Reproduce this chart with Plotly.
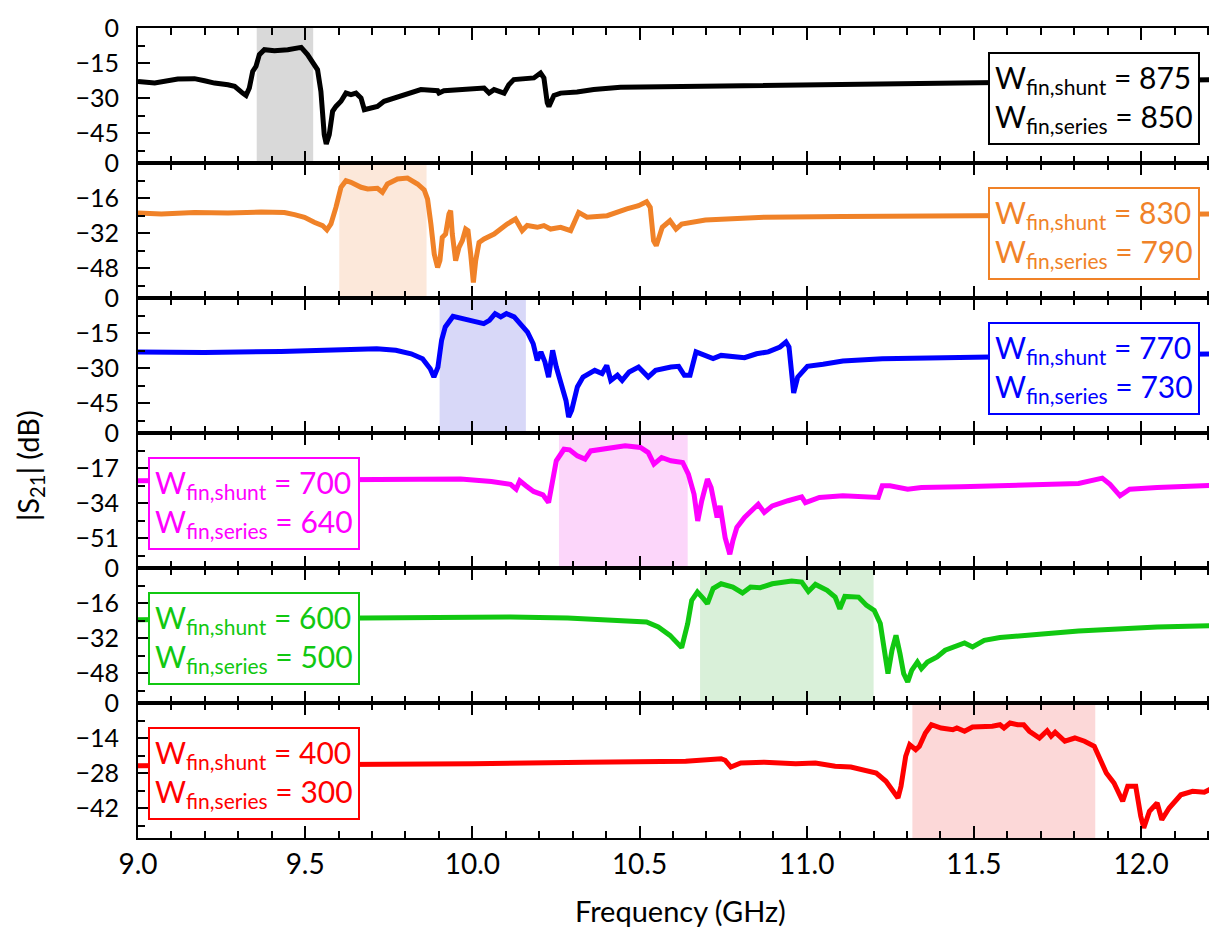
import plotly.graph_objects as go
from plotly.subplots import make_subplots

# ---------------- data ----------------
freq_875 = [9.000, 9.050, 9.119, 9.169, 9.199, 9.229, 9.269, 9.289, 9.313, 9.323, 9.333, 9.343, 9.353, 9.363,
            9.378, 9.408, 9.448, 9.478, 9.488, 9.507, 9.522, 9.537, 9.547, 9.557, 9.563, 9.572, 9.582, 9.592,
            9.607, 9.622, 9.637, 9.652, 9.667, 9.677, 9.697, 9.716, 9.736, 9.766, 9.816, 9.846, 9.896, 9.900,
            9.915, 9.965, 10.035, 10.050, 10.065, 10.095, 10.109, 10.124, 10.184, 10.204, 10.214, 10.224,
            10.229, 10.244, 10.264, 10.313, 10.363, 10.443, 10.638, 10.991, 11.461, 11.813, 12.225, 12.245]
s21_875 = [-22.9, -23.6, -21.9, -21.7, -22.6, -23.6, -24.3, -25.0, -27.9, -28.9, -25.7, -18.6, -16.4, -11.4,
           -9.3, -9.7, -9.3, -8.6, -8.3, -11.4, -14.3, -17.9, -27.1, -45.7, -49.7, -45.7, -35.7, -33.6,
           -31.4, -27.9, -28.6, -27.9, -30.0, -35.0, -34.3, -33.6, -31.4, -30.0, -27.9, -26.4, -26.9, -27.9,
           -26.9, -26.4, -25.7, -27.9, -26.4, -27.9, -24.3, -22.1, -21.4, -19.3, -21.4, -32.1,
           -33.6, -28.9, -27.9, -27.4, -26.4, -25.4, -25.0, -24.3, -23.6, -22.9, -22.1, -22.1]

freq_830 = [9.000, 9.070, 9.169, 9.269, 9.368, 9.438, 9.468, 9.498, 9.527, 9.552, 9.565, 9.577, 9.592, 9.607,
            9.622, 9.637, 9.667, 9.687, 9.716, 9.731, 9.746, 9.776, 9.806, 9.836, 9.856, 9.866, 9.876, 9.886,
            9.896, 9.903, 9.910, 9.920, 9.930, 9.935, 9.940, 9.950, 9.960, 9.970, 9.980, 9.987, 9.995, 10.003,
            10.010, 10.020, 10.035, 10.065, 10.104, 10.129, 10.149, 10.164, 10.194, 10.214, 10.234, 10.264,
            10.294, 10.308, 10.318, 10.343, 10.383, 10.403, 10.462, 10.497, 10.521, 10.532, 10.542, 10.550,
            10.568, 10.591, 10.609, 10.626, 10.697, 10.873, 11.108, 11.461, 12.225, 12.245]
s21_830 = [-22.9, -23.3, -22.6, -22.9, -22.4, -22.6, -23.6, -24.8, -27.1, -28.6, -30.6, -27.9, -20.3, -11.1,
           -8.1, -8.8, -11.1, -11.9, -11.6, -13.4, -9.6, -7.3, -6.9, -9.6, -12.3, -16.5, -27.9, -41.6,
           -47.7, -44.6, -34.0, -32.5, -23.3, -21.8, -32.5, -44.6, -38.6, -35.5, -30.2, -30.9, -41.6, -54.6,
           -44.6, -36.3, -34.7, -32.5, -27.9, -25.6, -30.9, -28.6, -29.4, -28.6, -30.2, -29.4,
           -30.9, -26.4, -22.6, -24.8, -24.5, -24.1, -21.0, -19.5, -17.7, -20.3, -35.5, -37.8,
           -29.4, -26.4, -30.2, -27.9, -26.1, -24.8, -24.5, -24.1, -23.3, -23.3]

freq_770 = [9.000, 9.199, 9.428, 9.542, 9.611, 9.714, 9.771, 9.817, 9.851, 9.874, 9.885, 9.897, 9.908, 9.919,
            9.942, 9.977, 10.011, 10.034, 10.051, 10.068, 10.085, 10.102, 10.125, 10.148, 10.165, 10.182,
            10.194, 10.205, 10.217, 10.228, 10.240, 10.251, 10.268, 10.280, 10.288, 10.297, 10.314, 10.331,
            10.366, 10.388, 10.402, 10.414, 10.434, 10.448, 10.469, 10.497, 10.526, 10.548, 10.594, 10.617,
            10.634, 10.651, 10.669, 10.720, 10.744, 10.779, 10.814, 10.850, 10.885, 10.920, 10.938, 10.947,
            10.955, 10.961, 10.973, 11.002, 11.049, 11.108, 11.226, 11.343, 11.549, 11.813, 12.225, 12.245]
s21_770 = [-23.1, -23.4, -22.9, -22.4, -22.4, -21.7, -22.4, -23.9, -26.0, -30.3, -33.9, -29.6, -18.1, -12.4,
           -7.9, -8.9, -10.3, -11.0, -9.6, -6.7, -8.1, -6.7, -8.1, -11.7, -14.6, -19.6,
           -26.7, -23.1, -27.4, -33.9, -22.4, -29.6, -38.1, -43.9, -51.0, -48.1, -38.1, -33.9,
           -31.0, -32.4, -28.9, -35.3, -33.1, -35.3, -31.7, -29.6, -33.9, -31.0, -29.6, -29.3,
           -33.1, -33.1, -23.1, -26.0, -24.6, -25.3, -25.6, -23.9, -23.1, -21.0, -18.9, -21.0,
           -32.4, -40.7, -33.9, -29.3, -28.4, -27.0, -26.0, -25.6, -25.3, -24.6, -23.9, -23.9]

freq_700 = [9.000, 9.691, 9.771, 9.885, 9.965, 10.057, 10.114, 10.131, 10.142, 10.160, 10.183, 10.211, 10.222,
            10.228, 10.240, 10.251, 10.274, 10.291, 10.314, 10.337, 10.354, 10.388, 10.434, 10.457, 10.503,
            10.526, 10.543, 10.566, 10.594, 10.629, 10.646, 10.663, 10.674, 10.686, 10.703, 10.714, 10.732,
            10.741, 10.756, 10.770, 10.779, 10.791, 10.814, 10.838, 10.855, 10.873, 10.897, 10.944, 10.985,
            10.996, 11.038, 11.108, 11.179, 11.214, 11.226, 11.249, 11.302, 11.343, 11.461, 11.578, 11.813,
            11.884, 11.907, 11.937, 11.966, 12.048, 12.166, 12.245]
s21_700 = [-23.2, -22.9, -22.4, -22.7, -22.4, -23.6, -24.9, -27.3, -23.2, -25.6, -28.4, -30.0, -32.9,
           -33.8, -23.2, -13.5, -7.9, -8.2, -11.1, -12.7, -8.7, -7.9, -6.7, -6.2, -7.0,
           -9.5, -15.1, -11.9, -13.5, -14.3, -20.0, -29.7, -42.7, -32.9, -22.4, -26.5, -41.0,
           -35.4, -50.8, -58.9, -52.4, -45.9, -41.0, -37.0, -34.6, -38.6, -35.4, -32.9, -31.0,
           -33.8, -31.3, -30.5, -31.0, -31.3, -25.6, -25.6, -27.3, -26.5, -26.1, -25.6, -24.5,
           -21.9, -24.9, -30.5, -27.3, -26.5, -25.6, -25.3]

freq_600 = [9.000, 9.691, 9.885, 10.114, 10.285, 10.400, 10.474, 10.521, 10.556, 10.591, 10.626, 10.644, 10.656,
            10.673, 10.691, 10.703, 10.720, 10.744, 10.779, 10.808, 10.832, 10.861, 10.897, 10.955, 10.985,
            11.005, 11.026, 11.061, 11.085, 11.099, 11.114, 11.155, 11.179, 11.202, 11.220, 11.232, 11.243,
            11.255, 11.267, 11.279, 11.290, 11.302, 11.314, 11.331, 11.343, 11.361, 11.390, 11.414, 11.443,
            11.472, 11.496, 11.531, 11.578, 11.613, 11.696, 11.813, 11.931, 12.048, 12.245]
s21_600 = [-23.6, -22.9, -22.9, -22.4, -22.9, -23.6, -23.9, -24.7, -27.0, -30.8, -36.4, -25.4, -14.8,
           -11.0, -14.0, -16.3, -9.4, -7.2, -8.7, -11.4, -8.7, -9.0, -7.2, -5.9, -6.4,
           -10.7, -7.5, -10.2, -13.3, -18.6, -13.0, -13.3, -17.1, -19.4, -25.4, -36.1, -48.3,
           -37.6, -30.8, -39.2, -48.3, -52.1, -46.8, -43.0, -46.0, -43.0, -40.7, -37.6, -36.1,
           -34.3, -36.1, -33.1, -31.8, -31.5, -30.3, -28.8, -27.7, -27.0, -26.2]

freq_400 = [9.000, 9.691, 10.000, 10.343, 10.521, 10.638, 10.744, 10.756, 10.773, 10.803, 10.873, 10.967,
            11.026, 11.085, 11.132, 11.167, 11.208, 11.237, 11.261, 11.273, 11.282, 11.296, 11.308, 11.326,
            11.337, 11.355, 11.373, 11.402, 11.437, 11.449, 11.472, 11.496, 11.555, 11.578, 11.590, 11.608,
            11.631, 11.649, 11.666, 11.696, 11.719, 11.731, 11.743, 11.772, 11.802, 11.831, 11.860, 11.872,
            11.896, 11.919, 11.945, 11.960, 11.984, 11.999, 12.008, 12.025, 12.048, 12.062, 12.084, 12.119,
            12.154, 12.189, 12.225, 12.245]
s21_400 = [-25.1, -24.7, -24.3, -23.7, -23.7, -23.3, -22.3, -22.9, -25.6, -24.0, -23.7, -24.3,
           -24.0, -25.3, -25.6, -26.7, -28.0, -31.3, -35.3, -38.0, -33.3, -21.3, -16.7, -18.7,
           -17.3, -12.0, -8.7, -10.0, -10.7, -10.0, -11.3, -9.6, -9.3, -8.7, -10.0, -8.0,
           -8.7, -8.7, -11.3, -14.0, -11.1, -13.3, -11.7, -15.3, -14.0, -15.3, -17.3, -21.3,
           -28.0, -32.0, -39.3, -33.3, -33.3, -45.3, -50.0, -43.3, -40.0, -46.7, -42.0, -36.7,
           -35.3, -35.7, -33.3, -32.7]

# passbands (GHz)
band_875 = [9.355, 9.524]
band_830 = [9.602, 9.863]
band_770 = [9.902, 10.160]
band_700 = [10.259, 10.644]
band_600 = [10.681, 11.200]
band_400 = [11.316, 11.863]

w_shunt = [875, 830, 770, 700, 600, 400]
w_series = [850, 790, 730, 640, 500, 300]
y_steps = [15, 16, 15, 17, 16, 14]
x_ticks = [9.0, 9.5, 10.0, 10.5, 11.0, 11.5, 12.0]

freqs = [freq_875, freq_830, freq_770, freq_700, freq_600, freq_400]
s21s = [s21_875, s21_830, s21_770, s21_700, s21_600, s21_400]
bands = [band_875, band_830, band_770, band_700, band_600, band_400]

line_colors = ["#000000", "#F08228", "#0000FF", "#FF00FF", "#11C811", "#FF0000"]
band_colors = ["#D9D9D9", "#FCE8DA", "#D8D8F8", "#FCD6FA", "#D9F0D9", "#FCD8D8"]
label_side = ["right", "right", "right", "left", "left", "left"]

FONT = "Lato"

fig = make_subplots(rows=6, cols=1, shared_xaxes=True, vertical_spacing=0)

for i in range(6):
    r = i + 1
    xref = "x" if r == 1 else f"x{r}"
    yref = "y domain" if r == 1 else f"y{r} domain"
    fig.add_shape(type="rect", xref=xref, yref=yref,
                  x0=bands[i][0], x1=bands[i][1], y0=0, y1=1,
                  fillcolor=band_colors[i], line=dict(width=0), layer="below")
    fig.add_trace(go.Scatter(x=freqs[i], y=s21s[i], mode="lines",
                             line=dict(color=line_colors[i], width=5),
                             showlegend=False, hoverinfo="skip"), row=r, col=1)
    s = y_steps[i]
    fig.update_yaxes(range=[-3.857 * s, 0], tick0=0, dtick=s,
                     minor=dict(ticks="inside", ticklen=7, tickwidth=2, tickcolor="black",
                                tick0=0, dtick=s / 2),
                     row=r, col=1)
    txt = (f"W<sub>fin,shunt</sub> = {w_shunt[i]}<br>"
           f"W<sub>fin,series</sub> = {w_series[i]}")
    fig.add_annotation(text=txt, xref="paper", yref=yref,
                       x=0.881 if label_side[i] == "right" else 0.107, y=0.48,
                       xanchor="center", yanchor="middle", showarrow=False, align="left",
                       font=dict(family=FONT, size=30, color=line_colors[i]),
                       bgcolor="white", bordercolor=line_colors[i], borderwidth=2, borderpad=5)

fig.update_xaxes(range=[9.0, 12.245], tickvals=x_ticks, tickformat=".1f",
                 showline=True, linewidth=2, linecolor="black", mirror="allticks",
                 ticks="inside", ticklen=12, tickwidth=2, tickcolor="black",
                 minor=dict(ticks="inside", ticklen=7, tickwidth=2, tickcolor="black",
                            tick0=9.0, dtick=0.1),
                 showgrid=False, zeroline=False,
                 tickfont=dict(family=FONT, size=28, color="black"))
fig.update_yaxes(showline=True, linewidth=2, linecolor="black", mirror="allticks",
                 ticks="inside", ticklen=12, tickwidth=2, tickcolor="black",
                 showgrid=False, zeroline=False, ticklabelstandoff=12,
                 tickfont=dict(family=FONT, size=25, color="black"))

fig.add_annotation(text="|S<sub>21</sub>| (dB)", xref="paper", yref="paper",
                   x=-0.1, y=0.46, xanchor="center", yanchor="middle", textangle=-90,
                   showarrow=False, font=dict(family=FONT, size=29, color="black"))
fig.add_annotation(text="Frequency (GHz)", xref="paper", yref="paper",
                   x=0.5, y=-0.09, xanchor="center", yanchor="middle",
                   showarrow=False, font=dict(family=FONT, size=29, color="black"))

fig.update_layout(width=1217, height=930, margin=dict(l=130, r=0, t=20, b=100),
                  plot_bgcolor="rgba(0,0,0,0)", paper_bgcolor="white",
                  font=dict(family=FONT, color="black"))

fig.write_html("out.html")
